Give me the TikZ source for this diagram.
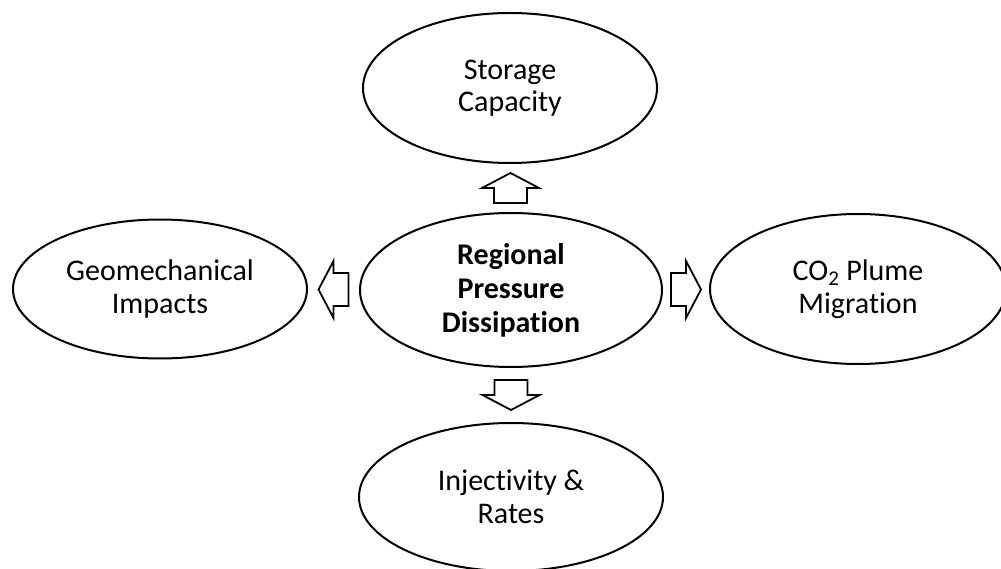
\documentclass[tikz,border=0pt]{standalone}
\usepackage{fontspec}
\setmainfont[Ligatures={NoCommon}]{Carlito}
\usetikzlibrary{shapes.geometric,calc}
\tikzset{
  bubble/.style={ellipse, draw=black, line width=2pt, inner sep=0pt, align=center,
    font=\fontsize{30}{32.5}\selectfont},
  hub/.style={bubble, font=\fontsize{30}{34}\selectfont\bfseries},
  blockarrow/.pic={\draw[line width=1.8pt, fill=white, line join=miter]
    (-15,-16.5) -- (0,-16.5) -- (0,-28.5) -- (15,0) -- (0,28.5) -- (0,16.5) -- (-15,16.5) -- cycle;}
}
\begin{document}
\begin{tikzpicture}[x=1pt,y=1pt]
\useasboundingbox[fill=white] (0,0) rectangle (1001,-569);
\node[hub, minimum width=302pt, minimum height=154pt] (c) at (511,-290) {Regional\\Pressure\\Dissipation};
\node[bubble, minimum width=294pt, minimum height=150pt] (s) at (510,-88) {Storage\\Capacity};
\node[bubble, minimum width=294pt, minimum height=139pt] (g) at (160,-289) {Geomechanical\\Impacts};
\node[bubble, minimum width=296pt, minimum height=150pt] (m) at (858,-289) {CO\textsubscript{2} Plume\\Migration};
\node[bubble, minimum width=304pt, minimum height=148pt] (i) at (511,-497) {Injectivity \&\\Rates};
\path ($(c.north)!0.5!(s.south)$) pic[rotate=90] {blockarrow};
\path ($(c.west)!0.5!(g.east)$) pic[rotate=180] {blockarrow};
\path ($(c.east)!0.5!(m.west)$) pic {blockarrow};
\path ($(c.south)!0.5!(i.north)$) pic[rotate=-90] {blockarrow};
\end{tikzpicture}
\end{document}
